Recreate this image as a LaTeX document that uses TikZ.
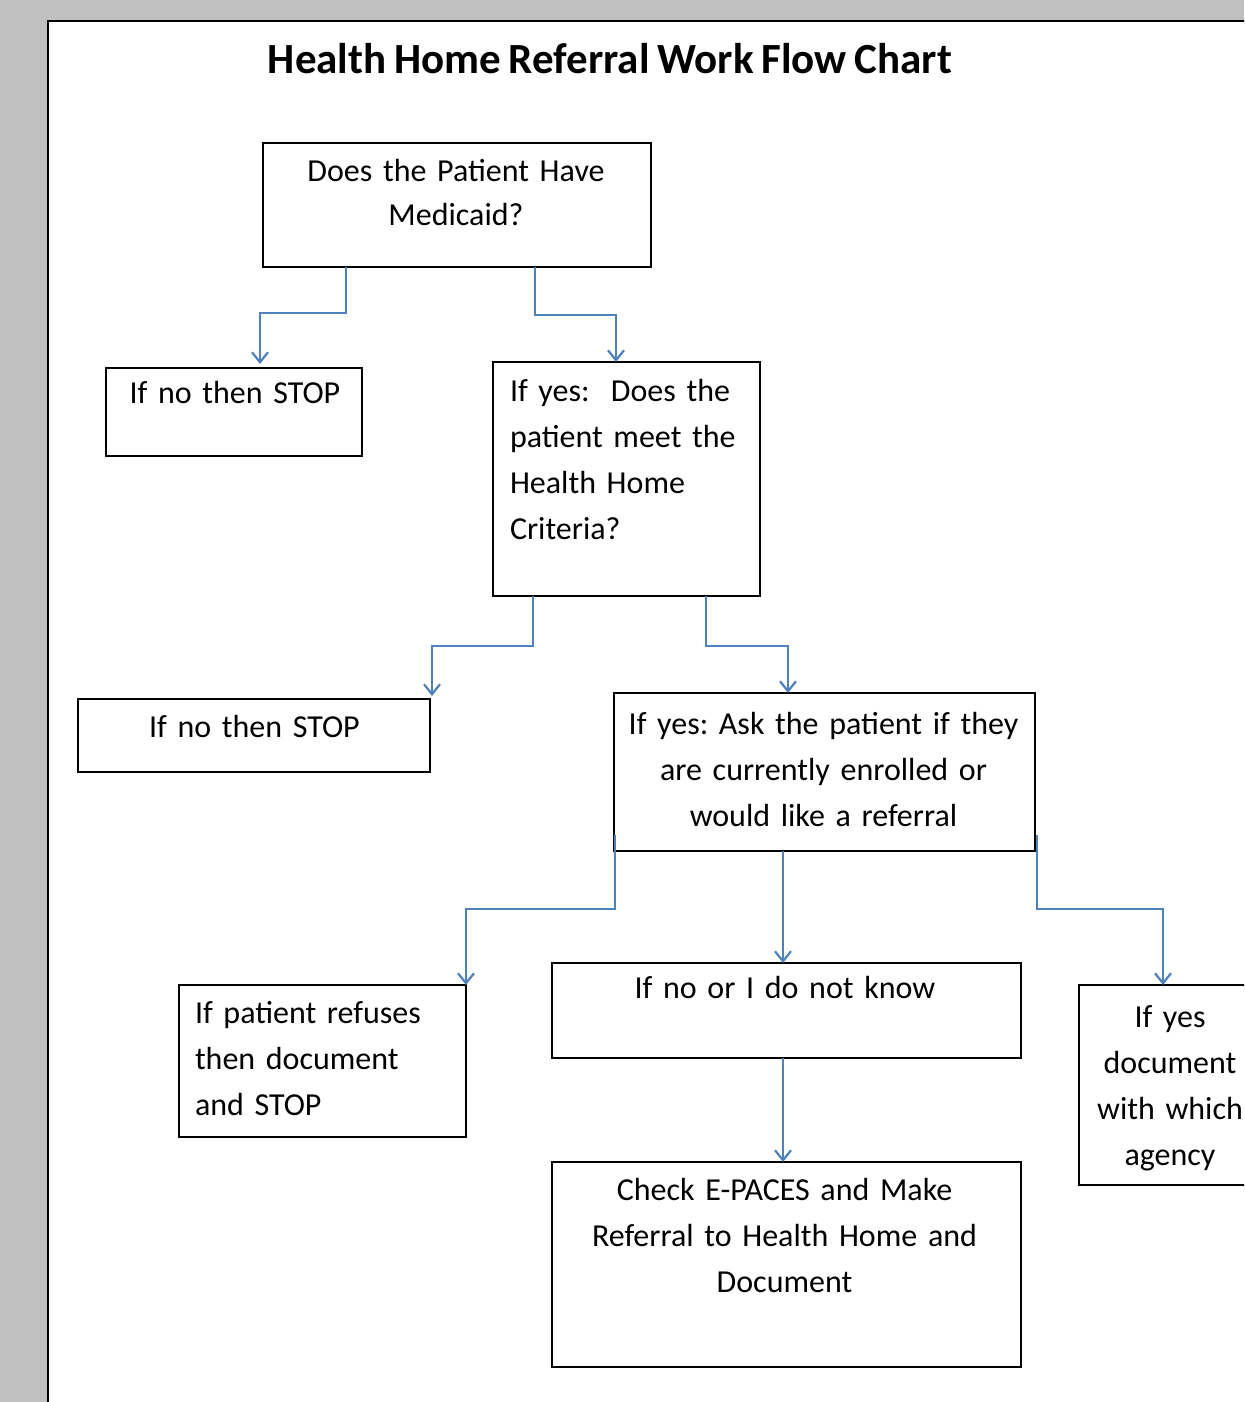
\documentclass[tikz,border=0pt]{standalone}
\usepackage{fontspec}
\setmainfont{Carlito}[WordSpace=0.8]
\usetikzlibrary{arrows.meta,calc}
\definecolor{pagegray}{HTML}{C0C0C0}
\definecolor{connblue}{HTML}{4F81BD}
\frenchspacing
\newcommand{\bodyfont}{\fontsize{32bp}{46bp}\selectfont}
\newcommand{\bodyfontb}{\fontsize{32bp}{44bp}\selectfont}
\tikzset{
  box/.style={draw=black, line width=2bp, inner sep=0pt, outer sep=0pt, anchor=north west},
  txt/.style={inner sep=0pt, outer sep=0pt, anchor=base, align=center, font=\bodyfont},
  txtl/.style={inner sep=0pt, outer sep=0pt, anchor=base west, align=left, font=\bodyfont},
  conn/.style={draw=connblue, line width=2bp, -{Straight Barb[length=10bp,width=16bp,line width=2.2bp]}}
}
\begin{document}
\begin{tikzpicture}[x=1bp,y=-1bp]
\useasboundingbox (0,0) rectangle (1244,1402);
\clip (0,0) rectangle (1244,1402);
% page
\fill[pagegray] (0,0) rectangle (1244,1402);
\fill[white] (48,21) rectangle (1260,1420);
\draw[black, line width=2.5bp] (48,1420) -- (48,21) -- (1260,21);
% title
\node[inner sep=0pt, anchor=base, font=\fontsize{43bp}{50bp}\selectfont\bfseries] (title) at (610,74) {Health Home Referral Work Flow Chart};
% boxes
\node[box, minimum width=388bp, minimum height=124bp] (b1) at (263,143) {};
\node[box, minimum width=256bp, minimum height=88bp] (b2) at (106,368) {};
\node[box, minimum width=267bp, minimum height=234bp] (b3) at (493,362) {};
\node[box, minimum width=352bp, minimum height=73bp] (b4) at (78,699) {};
\node[box, minimum width=421bp, minimum height=158bp] (b5) at (614,693) {};
\node[box, minimum width=287bp, minimum height=152bp] (b6) at (179,985) {};
\node[box, minimum width=469bp, minimum height=95bp] (b7) at (552,963) {};
\node[box, minimum width=469bp, minimum height=205bp] (b8) at (552,1162) {};
\node[box, minimum width=183bp, minimum height=200bp] (b9) at (1079,985) {};
% texts
\node[txt, text width=380bp, font=\bodyfontb] (t1) at (456,182) {Does the Patient Have\\Medicaid?};
\node[txt, text width=250bp] (t2) at (235,403) {If no then STOP};
\node[txtl, text width=250bp] (t3) at (510,401) {If yes:\ \ Does the\\patient meet the\\Health Home\\Criteria?};
\node[txt, text width=340bp] (t4) at (254.5,737) {If no then STOP};
\node[txt, text width=410bp] (t5) at (823.5,734) {If yes: Ask the patient if they\\are currently enrolled or\\would like a referral};
\node[txtl, text width=280bp] (t6) at (195,1023) {If patient refuses\\then document\\and STOP};
\node[txt, text width=440bp] (t7) at (785,998) {If no or I do not know};
\node[txt, text width=440bp] (t8) at (784.5,1200) {Check E-PACES and Make\\Referral to Health Home and\\Document};
\node[txt, text width=180bp] (t9) at (1170,1027) {If yes\\document\\with which\\agency};
% connectors
\draw[conn] ($(b1.south west)+(83,0)$) -- ++(0,46) -| ($(b2.north west)+(154,-4)$);
\draw[conn] ($(b1.south west)+(272,0)$) -- ++(0,48) -| ($(b3.north west)+(123,0)$);
\draw[conn] ($(b3.south west)+(40,0)$) -- ++(0,50) -| ($(b4.north east)+(2,-3)$);
\draw[conn] ($(b3.south west)+(213,0)$) -- ++(0,50) -| ($(b5.north west)+(174,0)$);
\draw[conn] ($(b5.south west)+(1,-16)$) -- ++(0,74) -| (b6.north east);
\draw[conn] ($(b5.south west)+(169,0)$) -- ($(b7.north west)+(231,0)$);
\draw[conn] ($(b5.south east)+(2,-16)$) -- ++(0,74) -| ($(b9.north west)+(84,0)$);
\draw[conn] ($(b7.south west)+(231,0)$) -- ($(b8.north west)+(231,0)$);
\end{tikzpicture}
\end{document}
